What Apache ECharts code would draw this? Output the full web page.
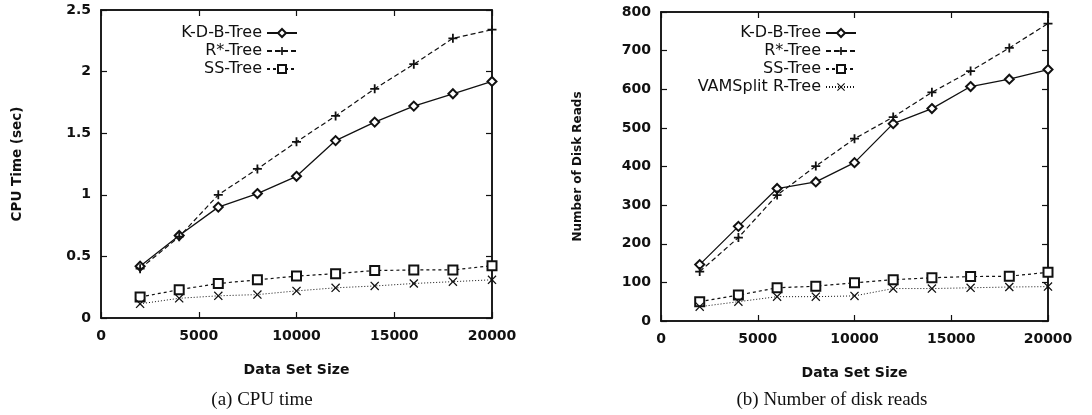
<!DOCTYPE html>
<html>
<head>
<meta charset="utf-8">
<script src="https://cdn.jsdelivr.net/npm/echarts@6/dist/echarts.min.js"></script>
<style>
html,body{margin:0;padding:0;background:#fff;}
#c{width:1092px;height:415px;}
</style>
</head>
<body>
<div id="c"></div>
<script>
// ---- data ----
const sizes = [2000, 4000, 6000, 8000, 10000, 12000, 14000, 16000, 18000, 20000];
const seriesNames = ['K-D-B-Tree', 'R*-Tree', 'SS-Tree', 'VAMSplit R-Tree'];

// (a) CPU time (sec)
const cpuKDB  = [0.42, 0.67, 0.90, 1.01, 1.15, 1.44, 1.59, 1.72, 1.82, 1.92];
const cpuRStar = [0.40, 0.66, 1.00, 1.21, 1.43, 1.64, 1.86, 2.06, 2.27, 2.34];
const cpuSS   = [0.17, 0.23, 0.28, 0.31, 0.34, 0.36, 0.385, 0.39, 0.39, 0.425];
const cpuVAM  = [0.115, 0.16, 0.18, 0.19, 0.22, 0.245, 0.26, 0.28, 0.295, 0.31];

// (b) Number of disk reads
const diskKDB  = [146, 245, 343, 360, 410, 511, 550, 607, 626, 651];
const diskRStar = [128, 216, 326, 401, 472, 528, 592, 647, 707, 770];
const diskSS   = [50, 67, 86, 90, 99, 107, 112, 115, 116, 126];
const diskVAM  = [37, 50, 63, 63, 65, 84, 84, 86, 88, 89];

const cpuTicks = {min: 0, max: 2.5, interval: 0.5};
const diskTicks = {min: 0, max: 800, interval: 100};
const xTicks = {min: 0, max: 20000, interval: 5000};

// ---- styles ----
const INK = '#111';
const PLUS = 'path://M4,0h2v4h4v2h-4v4h-2v-4h-4v-2h4z';
const CROSS = 'path://M0,1L1,0L5,4L9,0L10,1L6,5L10,9L9,10L5,6L1,10L0,9L4,5Z';
const seriesStyle = [
  {symbol: 'emptyDiamond', symbolSize: 9, line: {type: 'solid', width: 1.3}, item: {color: INK, borderColor: INK, borderWidth: 1.3}},
  {symbol: PLUS, symbolSize: 9, line: {type: [5, 3], width: 1.2}, item: {color: INK, borderWidth: 0}},
  {symbol: 'emptyRect', symbolSize: 9, line: {type: [3, 3], width: 1.2}, item: {color: INK, borderColor: INK, borderWidth: 1.3}},
  {symbol: CROSS, symbolSize: 9, line: {type: [1, 2], width: 1}, item: {color: INK, borderWidth: 0}}
];

function pairs(vals) { return sizes.map((s, i) => [s, vals[i]]); }

function mkSeries(idx, vals, gi) {
  const st = seriesStyle[idx];
  return {
    type: 'line', name: seriesNames[idx], xAxisIndex: gi, yAxisIndex: gi,
    data: pairs(vals), symbol: st.symbol, symbolSize: st.symbolSize,
    showAllSymbol: true, animation: false,
    lineStyle: {color: INK, type: st.line.type, width: st.line.width},
    itemStyle: st.item, emphasis: {disabled: true}
  };
}
// empty helper series so the mirrored (top/right) tick axes are activated
function mirrorSeries(gi) {
  return {type: 'line', name: '_mirror' + gi, xAxisIndex: gi + 2, yAxisIndex: gi + 2, data: [], silent: true};
}

const tickFont = {fontFamily: 'DejaVu Sans', fontWeight: 'bold', fontSize: 14, color: INK};
const nameFont = {fontFamily: 'DejaVu Sans', fontWeight: 'bold', color: INK};
const plain = v => String(v);

function xAxisMain(gi) {
  return {
    type: 'value', gridIndex: gi, min: xTicks.min, max: xTicks.max, interval: xTicks.interval,
    name: 'Data Set Size', nameLocation: 'middle', nameGap: 45,
    nameTextStyle: Object.assign({fontSize: 14}, nameFont),
    axisLine: {show: true, lineStyle: {color: INK, width: 1.5}},
    axisTick: {show: true, inside: true, length: 6, lineStyle: {color: INK, width: 1.2}},
    axisLabel: Object.assign({margin: 11, formatter: plain}, tickFont),
    splitLine: {show: false}
  };
}
function xAxisMirror(gi) {
  return {
    type: 'value', gridIndex: gi, position: 'top', min: xTicks.min, max: xTicks.max, interval: xTicks.interval,
    axisLine: {show: true, onZero: false, lineStyle: {color: INK, width: 1.5}},
    axisTick: {show: true, inside: true, length: 6, lineStyle: {color: INK, width: 1.2}},
    axisLabel: {show: false}, splitLine: {show: false}
  };
}
function yAxisMain(gi, t, name, nameSize, gap) {
  return {
    type: 'value', gridIndex: gi, min: t.min, max: t.max, interval: t.interval,
    name: name, nameLocation: 'middle', nameGap: gap,
    nameTextStyle: Object.assign({fontSize: nameSize}, nameFont),
    axisLine: {show: true, lineStyle: {color: INK, width: 1.5}},
    axisTick: {show: true, inside: true, length: 6, lineStyle: {color: INK, width: 1.2}},
    axisLabel: Object.assign({margin: 10, formatter: plain}, tickFont),
    splitLine: {show: false}
  };
}
function yAxisMirror(gi, t) {
  return {
    type: 'value', gridIndex: gi, position: 'right', min: t.min, max: t.max, interval: t.interval,
    axisLine: {show: true, onZero: false, lineStyle: {color: INK, width: 1.5}},
    axisTick: {show: true, inside: true, length: 6, lineStyle: {color: INK, width: 1.2}},
    axisLabel: {show: false}, splitLine: {show: false}
  };
}

const legendBase = {
  orient: 'vertical', align: 'right', itemWidth: 30, itemHeight: 10, itemGap: 2,
  selectedMode: false,
  textStyle: {fontFamily: 'DejaVu Sans', fontSize: 16, color: INK},
  padding: 0
};

const chart = echarts.init(document.getElementById('c'), null, {renderer: 'canvas'});
chart.setOption({
  animation: false,
  backgroundColor: '#fff',
  grid: [
    {left: 101, top: 10, width: 391, height: 308, show: true, borderColor: INK, borderWidth: 1.5, backgroundColor: 'transparent'},
    {left: 661, top: 12, width: 387, height: 309, show: true, borderColor: INK, borderWidth: 1.5, backgroundColor: 'transparent'}
  ],
  xAxis: [xAxisMain(0), xAxisMain(1), xAxisMirror(0), xAxisMirror(1)],
  yAxis: [
    yAxisMain(0, cpuTicks, 'CPU Time (sec)', 13.5, 77),
    yAxisMain(1, diskTicks, 'Number of Disk Reads', 12, 77),
    yAxisMirror(0, cpuTicks),
    yAxisMirror(1, diskTicks)
  ],
  legend: [
    Object.assign({}, legendBase, {right: 794, top: 25, data: seriesNames.slice(0, 3)}),
    Object.assign({}, legendBase, {right: 235, top: 25, data: seriesNames.slice()})
  ],
  graphic: [
    {type: 'text', x: 262, y: 400, style: {text: '(a) CPU time', font: '19px "Liberation Serif"', fill: INK, textAlign: 'center', textVerticalAlign: 'middle'}},
    {type: 'text', x: 832, y: 400, style: {text: '(b) Number of disk reads', font: '19px "Liberation Serif"', fill: INK, textAlign: 'center', textVerticalAlign: 'middle'}}
  ],
  series: [
    mkSeries(0, cpuKDB, 0), mkSeries(1, cpuRStar, 0), mkSeries(2, cpuSS, 0), mkSeries(3, cpuVAM, 0),
    mkSeries(0, diskKDB, 1), mkSeries(1, diskRStar, 1), mkSeries(2, diskSS, 1), mkSeries(3, diskVAM, 1),
    mirrorSeries(0), mirrorSeries(1)
  ]
});
</script>
</body>
</html>
